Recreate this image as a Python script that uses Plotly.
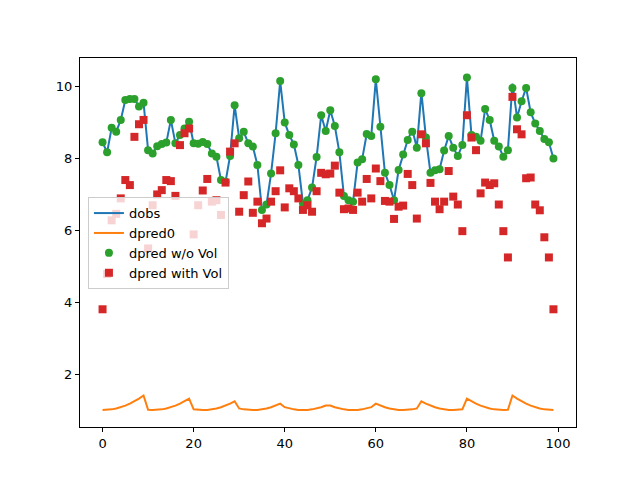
import plotly.graph_objects as go

x_idx = list(range(100))

dobs = [8.44, 8.16, 8.84, 8.73, 9.06, 9.61, 9.64, 9.64, 9.43, 9.54,
        8.22, 8.13, 8.33, 8.39, 8.43, 9.06, 8.41, 8.64, 8.82, 9.01,
        8.41, 8.40, 8.45, 8.39, 8.13, 8.04, 7.39, 7.34, 8.06, 9.47,
        8.55, 8.73, 8.41, 8.32, 7.81, 6.56, 6.71, 7.57, 8.69, 10.14,
        8.99, 8.64, 8.38, 7.81, 6.74, 6.83, 7.18, 8.03, 9.19, 8.75,
        9.33, 8.89, 8.16, 6.95, 6.83, 6.79, 7.88, 7.97, 8.67, 8.61,
        10.19, 8.87, 7.59, 7.25, 6.83, 7.67, 8.10, 8.50, 8.80, 8.29,
        9.83, 8.57, 7.59, 7.66, 7.69, 8.21, 8.61, 8.29, 8.06, 8.36,
        10.24, 8.64, 8.59, 8.48, 9.36, 9.06, 8.48, 8.32, 8.04, 8.22,
        10.07, 9.13, 9.58, 9.95, 9.27, 8.96, 8.75, 8.53, 8.44, 7.99]

dpred_novol = [8.44, 8.16, 8.84, 8.73, 9.06, 9.61, 9.64, 9.64, 9.43, 9.54,
               8.22, 8.13, 8.33, 8.39, 8.43, 9.06, 8.41, 8.64, 8.82, 9.01,
               8.41, 8.40, 8.45, 8.39, 8.13, 8.04, 7.39, 7.34, 8.06, 9.47,
               8.55, 8.73, 8.41, 8.32, 7.81, 6.56, 6.71, 7.57, 8.69, 10.14,
               8.99, 8.64, 8.38, 7.81, 6.74, 6.83, 7.18, 8.03, 9.19, 8.75,
               9.33, 8.89, 8.16, 6.95, 6.83, 6.79, 7.88, 7.97, 8.67, 8.61,
               10.19, 8.87, 7.59, 7.25, 6.83, 7.67, 8.10, 8.50, 8.73, 8.29,
               9.80, 8.57, 7.59, 7.66, 7.69, 8.21, 8.61, 8.29, 8.06, 8.36,
               10.24, 8.64, 8.59, 8.48, 9.36, 9.06, 8.48, 8.32, 8.04, 8.22,
               9.95, 9.13, 9.58, 9.95, 9.27, 8.96, 8.75, 8.53, 8.44, 7.99]

dpred_vol = [3.80, 4.78, 6.27, 6.45, 6.88, 7.39, 7.25, 8.59, 8.94, 9.06,
             5.49, 6.69, 6.99, 7.11, 7.39, 7.36, 6.95, 8.36, 8.69, 8.82,
             5.88, 6.69, 7.10, 7.42, 6.79, 6.83, 6.42, 7.32, 8.18, 8.41,
             6.51, 6.97, 7.35, 6.48, 6.79, 6.19, 6.32, 6.79, 7.08, 7.66,
             6.63, 7.16, 7.08, 6.88, 6.56, 6.69, 6.51, 7.08, 7.59, 7.55,
             7.57, 7.79, 7.04, 6.58, 6.60, 6.56, 7.04, 6.79, 7.42, 6.88,
             7.71, 7.36, 6.81, 6.79, 6.31, 6.65, 6.68, 7.56, 7.25, 6.32,
             8.66, 8.41, 7.31, 6.79, 6.58, 6.79, 7.64, 6.93, 6.71, 5.97,
             9.19, 8.57, 8.22, 7.02, 7.32, 7.25, 7.30, 6.71, 5.97, 5.24,
             9.70, 8.80, 8.66, 7.44, 7.46, 6.71, 6.55, 5.80, 5.24, 3.80]

dpred0 = [1.000, 1.005, 1.020, 1.045, 1.080, 1.125, 1.180, 1.245, 1.320, 1.405,
          1.005, 1.000, 1.005, 1.020, 1.045, 1.080, 1.125, 1.180, 1.245, 1.320,
          1.020, 1.005, 1.000, 1.005, 1.020, 1.045, 1.080, 1.125, 1.180, 1.245,
          1.045, 1.020, 1.005, 1.000, 1.005, 1.020, 1.045, 1.080, 1.125, 1.180,
          1.080, 1.045, 1.020, 1.005, 1.000, 1.005, 1.020, 1.045, 1.080, 1.125,
          1.125, 1.080, 1.045, 1.020, 1.005, 1.000, 1.005, 1.020, 1.045, 1.080,
          1.180, 1.125, 1.080, 1.045, 1.020, 1.005, 1.000, 1.005, 1.020, 1.045,
          1.245, 1.180, 1.125, 1.080, 1.045, 1.020, 1.005, 1.000, 1.005, 1.020,
          1.320, 1.245, 1.180, 1.125, 1.080, 1.045, 1.020, 1.005, 1.000, 1.005,
          1.405, 1.320, 1.245, 1.180, 1.125, 1.080, 1.045, 1.020, 1.005, 1.000]

x_ticks = [0, 20, 40, 60, 80, 100]
y_ticks = [2, 4, 6, 8, 10]

fig = go.Figure()
fig.add_trace(go.Scatter(x=x_idx, y=dobs, mode="lines", name="dobs",
                         line=dict(color="#1f77b4", width=2)))
fig.add_trace(go.Scatter(x=x_idx, y=dpred0, mode="lines", name="dpred0",
                         line=dict(color="#ff7f0e", width=2)))
fig.add_trace(go.Scatter(x=x_idx, y=dpred_novol, mode="markers", name="dpred w/o Vol",
                         marker=dict(color="#2ca02c", size=8, symbol="circle")))
fig.add_trace(go.Scatter(x=x_idx, y=dpred_vol, mode="markers", name="dpred with Vol",
                         marker=dict(color="#d62728", size=8, symbol="square")))

axis_common = dict(showline=True, linecolor="black", linewidth=1, mirror=True,
                   ticks="outside", ticklen=4, tickwidth=1, tickcolor="black",
                   showgrid=False, zeroline=False,
                   tickfont=dict(family="DejaVu Sans", size=13, color="black"))

fig.update_xaxes(range=[-4.95, 103.95], tickvals=x_ticks, **axis_common)
fig.update_yaxes(range=[0.53, 10.78], tickvals=y_ticks, **axis_common)

# page body has an 8px margin, so the plot frame is shifted up/left by 8px
fig.update_layout(
    width=640, height=480,
    margin=dict(l=72, r=72, t=50, b=61),
    plot_bgcolor="white", paper_bgcolor="white",
    font=dict(family="DejaVu Sans", size=13, color="black"),
    legend=dict(x=0.016, y=0.623, xanchor="left", yanchor="top",
                bgcolor="rgba(255,255,255,0.8)", bordercolor="#cccccc", borderwidth=1,
                font=dict(family="DejaVu Sans", size=13, color="black")),
)

fig.write_html("out.html")
